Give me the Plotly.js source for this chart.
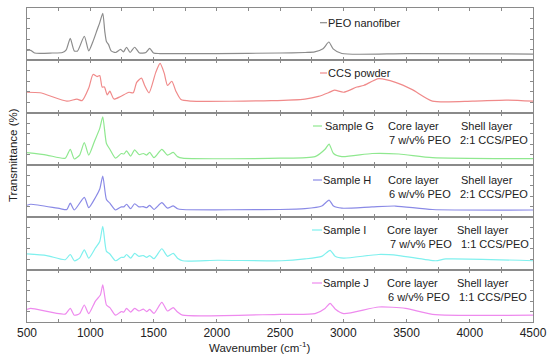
<!DOCTYPE html>
<html>
<head>
<meta charset="utf-8">
<script src="https://cdn.plot.ly/plotly-3.0.1.min.js"></script>
<style>html,body{margin:0;padding:0;background:#fff;}#chart{width:550px;height:362px;}</style>
</head>
<body>
<div id="chart"></div>
<script>
// Wavenumber (cm-1) and relative transmittance (0-100 within each panel)
const peoX = [500,530,560,700,780,810,842,874,900,953,988,1020,1054,1075,1099,1115,1128,1145,1165,1200,1240,1262,1287,1315,1351,1390,1440,1470,1500,1550,2000,2500,2700,2774,2840,2886,2920,2989,3500,4500];
const peoY = [19,19,14,14,15,20,42,18,18,46,18,35,58,72,90,55,36,30,18,15,21,16,25,15,25,14,15,23,14,13,13,14,15,16,22,35,22,13,13,12];

const ccsX = [500,603,815,895,935,988,1022,1054,1075,1094,1112,1134,1155,1187,1240,1306,1340,1367,1405,1430,1465,1518,1552,1584,1611,1645,1677,1717,1796,2432,2697,2804,2883,2931,3003,3108,3161,3280,3413,3546,3705,4023,4288,4500];
const ccsY = [39,38,22,26,23,47,73,69,71,49,49,34,41,26,31,39,38,58,66,52,38,77,94,76,52,60,41,25,22,23,26,31,38,43,39,49,52,65,58,44,22,22,24,22];

const gX = [500,656,802,842,874,916,953,988,1033,1075,1099,1128,1155,1200,1245,1266,1287,1319,1351,1385,1420,1446,1470,1504,1566,1611,1656,1690,1730,2500,2777,2856,2888,2923,2989,3228,3440,3705,4500];
const gY = [23.5,19,13,30,11.5,19,43,19,45,70,92,41,30,13,22,21,27,17,29,20,22,19,24,14,30,19,24,16,13,13,16,30,40,22,16,22,21,14,12];

const hX = [500,530,762,815,842,874,953,988,1041,1075,1099,1128,1155,1200,1245,1266,1287,1319,1351,1385,1420,1446,1470,1504,1566,1611,1656,1690,1730,2500,2697,2830,2888,2923,2989,3228,3413,3705,4500];
const hY = [23,25,16.5,15,27,14,38,18.5,38,54,79,34,27,14,20,20,25,16.5,26,20,20.5,18.5,23,15,28,17.5,22,16.5,15,15,16.5,21.6,33,21.6,17.5,20,21.6,15,14];

const iX = [500,656,802,842,874,916,953,988,1041,1075,1099,1128,1155,1200,1245,1266,1287,1319,1351,1385,1420,1446,1470,1504,1566,1611,1656,1690,1730,2008,2512,2697,2830,2896,2936,3003,3280,3440,3731,3811,4500];
const iY = [30,27,19,29,17,22,38,22,41.5,54,83,35,30,17,23.6,23.6,29,22,31,25.5,27,23.6,27,21,40,25.5,31,22,17,18,17,20.5,25.5,37,25.5,22,29,27,17,20.5,17];

const jX = [500,530,802,842,874,916,953,988,1041,1080,1099,1128,1155,1200,1245,1266,1287,1319,1351,1385,1420,1446,1470,1504,1566,1611,1656,1690,1730,2500,2777,2856,2896,2936,3003,3280,3493,3705,4500];
const jY = [24,26,15,26,13,16,32.5,16,40,51.6,71,32.5,27.5,13,20,19,26,19,26,21,24.6,20,24,16.5,37.6,21,27.6,19,13,14.7,16,26,35.7,25,16,28.7,26,14.7,13];

const seriesNames = ["PEO nanofiber","CCS powder","Sample G","Sample H","Sample I","Sample J"];
const seriesX = [peoX,ccsX,gX,hX,iX,jX];
const seriesY = [peoY,ccsY,gY,hY,iY,jY];
const colors = ["#8c8c8c","#f08a8a","#8fe88f","#8a8ae6","#7ff0ee","#ee8aee"];
const coreText = [null,null,"7 w/v% PEO","6 w/v% PEO","7 w/v% PEO","6 w/v% PEO"];
const shellText = [null,null,"2:1 CCS/PEO","2:1 CCS/PEO","1:1 CCS/PEO","1:1 CCS/PEO"];
const xTicks = [500,1000,1500,2000,2500,3000,3500,4000,4500];

const n = 6;
const data = [];
const layout = {
  width:550, height:362,
  margin:{l:27,r:17,t:8,b:40},
  paper_bgcolor:"#fff", plot_bgcolor:"#fff",
  showlegend:false,
  font:{family:"Liberation Sans, Arial, sans-serif", size:11, color:"#222"},
  annotations:[], shapes:[]
};
const frame = "#8a8a8a";
for (let k=0;k<n;k++){
  const sfx = k===0 ? "" : String(k+1);
  data.push({x:seriesX[k], y:seriesY[k], type:"scatter", mode:"lines",
    line:{color:colors[k], width:1.2, shape:"spline", smoothing:0.6},
    xaxis:"x"+sfx, yaxis:"y"+sfx, name:seriesNames[k], hoverinfo:"skip"});
  const top = 1 - k/n, bot = 1-(k+1)/n;
  layout["yaxis"+sfx] = {domain:[bot,top], range:[0,100], anchor:"x"+sfx,
    showticklabels:false, showgrid:false, zeroline:false,
    ticks:"inside", ticklen:3, tickcolor:frame, dtick:20,
    showline:true, linecolor:frame, linewidth:1, mirror:"ticks"};
  layout["xaxis"+sfx] = {range:[500,4500], anchor:"y"+sfx,
    showticklabels:k===n-1, showgrid:false, zeroline:false,
    tickvals:xTicks, ticktext:xTicks.map(String),
    ticks:"inside", ticklen:3, tickcolor:frame,
    minor:{dtick:250, tick0:500, ticks:"inside", ticklen:3, tickcolor:frame},
    showline:true, linecolor:frame, linewidth:1, mirror:"ticks",
    tickfont:{size:12, color:"#222"}};
  if (k>0) layout["xaxis"+sfx].matches = "x";
}

// legend-like labels (pixel positions converted to paper coords)
const W = 506, H = 314, L = 27, T = 8;
const px = v => (v-L)/W, py = v => 1-(v-T)/H;
const labelRows = [22.7, 73, 126, 180, 230, 283];
const lineStart = [320, 320, 313, 313, 312, 312];
const lineEnd = [327, 327, 322, 322, 322, 322];
const textStart = [327, 327, 324, 322, 322, 322];
const coreX = [0,0,387,387,386,386];
const core2X = [0,0,388,388,389,387];
const shellX = [0,0,460,460,456,456];
const shell2X = [0,0,459,459,460,458];
function label(x, y, text){
  layout.annotations.push({xref:"paper", yref:"paper", x:px(x), y:py(y),
    xanchor:"left", yanchor:"middle", text:text, showarrow:false, font:{size:11},
    borderpad:0});
}
for (let k=0;k<n;k++){
  layout.shapes.push({type:"line", xref:"paper", yref:"paper",
    x0:px(lineStart[k]), x1:px(lineEnd[k]), y0:py(labelRows[k]), y1:py(labelRows[k]),
    line:{color:colors[k], width:1.2}});
  label(textStart[k], labelRows[k], seriesNames[k]);
  if (coreText[k]){
    label(coreX[k], labelRows[k], "Core layer");
    label(core2X[k], labelRows[k]+13.5, coreText[k]);
    label(shellX[k], labelRows[k], "Shell layer");
    label(shell2X[k], labelRows[k]+13.5, shellText[k]);
  }
}
layout.annotations.push({xref:"paper", yref:"paper", x:px(13), y:py(155),
  xanchor:"center", yanchor:"middle", textangle:-90, text:"Transmittance (%)", showarrow:false, font:{size:11.5}});
layout.annotations.push({xref:"paper", yref:"paper", x:px(259), y:py(347),
  xanchor:"center", yanchor:"middle", text:"Wavenumber (cm<sup>-1</sup>)", showarrow:false, font:{size:11.5}});

Plotly.newPlot("chart", data, layout, {staticPlot:true, displayModeBar:false});
</script>
</body>
</html>
